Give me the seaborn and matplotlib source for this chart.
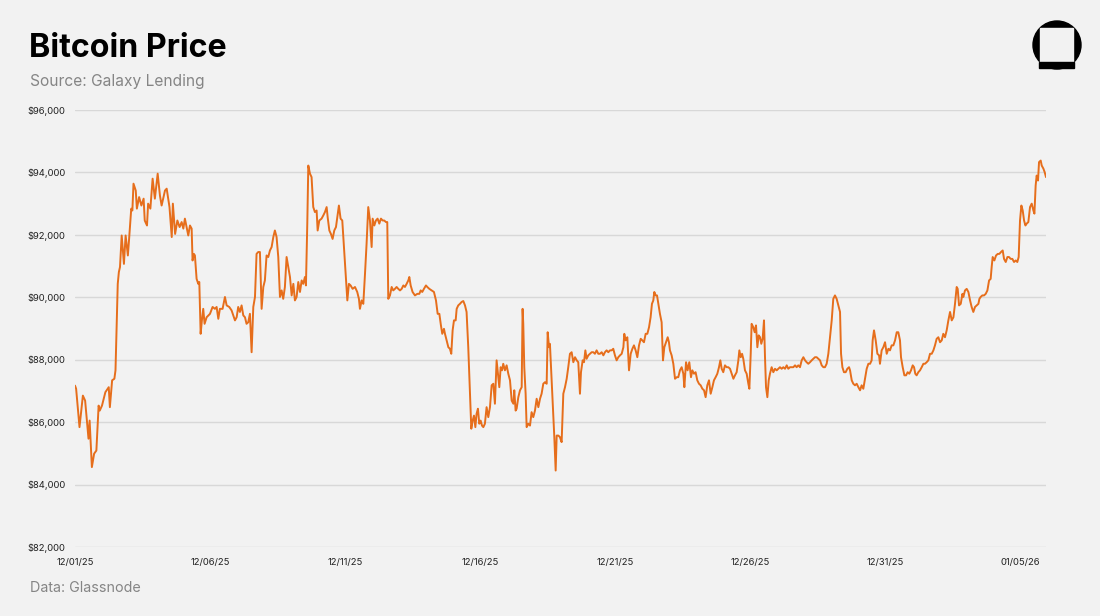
import pandas as pd
import seaborn as sns
import matplotlib
matplotlib.use("Agg")
import matplotlib.pyplot as plt
from matplotlib.ticker import FuncFormatter
from matplotlib.patches import Circle, Rectangle

# hours since 2025-12-01 00:00 and BTC price
hours = [
    0, 1, 4, 7, 9, 12, 13, 15, 17, 19, 21, 22, 24, 27, 30, 31, 33, 35, 36, 38,
    39, 40, 41.5, 43.5, 45, 47, 48, 50, 51, 52, 54, 55, 57, 59, 61, 62, 64, 65, 67, 69,
    71, 73.5, 75.5, 77, 80, 81.5, 84, 86, 87, 89, 91, 93,
    94.8, 96.3, 97.7, 99.2, 100.7, 102.2, 103.7, 104.5, 105.7, 106.6, 108.1, 109.6, 110.5, 111.7,
    112.8, 114.0, 115.2, 117.0, 120.0, 122.3, 124.4, 125.9, 127.4, 128.8, 131.2, 133.3, 134.8,
    137.1, 139.2, 140.7, 142.2, 143.7, 145.1, 146.6, 148.1, 149.6, 151.1, 152.5, 154.0, 155.5,
    157.0, 158.5, 160.0, 161.4, 162.9, 164.4, 165.9, 167.4, 168.8, 170.3, 171.8, 173.3, 174.8,
    176.3, 177.7, 179.2, 180.7, 182.2, 183.7, 185.1, 186.6, 188.1, 189.6, 191.1,
    192.6, 194.1, 195.5, 197.0, 198.5, 200.0, 201.5, 202.9, 204.4, 205.3, 206.5, 207.4, 208.9,
    210.3, 211.8, 213.3, 214.8, 215.7, 217.2, 219.2, 220.7, 222.2, 223.7, 224.6, 226.1, 227.5,
    229.0, 230.5, 232.0, 233.2, 234.6, 236.1, 237.6, 239.1, 240.6, 242.1, 243.5, 245.0, 246.8,
    248.9, 250.9, 252.4, 253.3, 254.8, 256.3, 257.8, 259.2, 260.7, 262.2, 263.7, 264.6, 266.1,
    267.5, 269.0, 270.5, 272.0, 273.5, 274.9, 276.4, 277.6, 278.5, 280.0, 281.5, 282.9, 284.4,
    285.9, 287.4, 288.9,
    290.4, 291.9, 293.3, 294.8, 296.3, 297.2, 298.4, 300.1, 302.2, 304.3, 306.1, 307.3, 308.7,
    310.2, 312.0, 313.2, 315.0, 317.0, 319.1, 320.9, 322.4, 323.9, 325.3, 326.5, 328.0, 328.9,
    330.4, 331.9, 333.3, 334.5, 335.7, 336.9, 338.4, 339.3, 340.7, 342.2, 343.7, 345.2, 346.7,
    348.1, 349.6, 351.1, 352.3, 353.5, 354.7, 355.9, 357.0, 358.2, 359.4, 360.6, 361.8, 363.0,
    364.4, 365.9, 367.4, 368.9, 370.4, 371.9, 373.3, 374.8, 376.0, 377.2, 378.4, 379.6, 380.7,
    382.2, 383.7, 385.2, 386.7,
    388.2, 389.7, 390.5, 391.7, 392.6, 394.1, 395.6, 397.1, 397.9, 398.5, 399.4, 400.6, 401.5,
    403.0, 404.5, 405.9, 407.4, 408.9, 410.4, 411.9, 413.4, 414.8, 416.3, 417.8, 419.3, 420.2,
    421.4, 422.2, 423.7, 425.2, 426.1, 427.3, 428.2, 429.7, 431.1, 432.6, 434.1, 435.6, 437.1,
    438.5, 440.0, 441.5, 443.0, 444.5, 446.0, 447.4, 448.9, 449.8, 451.3, 452.5, 453.7, 454.8,
    456.3, 457.8, 459.3, 460.8, 462.2, 463.7, 465.2, 466.7, 468.2, 469.7, 471.1, 472.6, 474.1,
    475.6, 477.1, 478.5, 480.0, 481.5, 483.0, 484.5,
    486.0, 487.5, 488.3, 489.5, 491.0, 492.5, 494.0, 495.5, 496.9, 498.4, 499.9, 501.4, 502.9,
    504.3, 505.8, 507.3, 508.8, 510.3, 511.7, 512.9, 514.1, 515.0, 516.2, 517.4, 518.6, 520.0,
    521.5, 522.7, 523.9, 525.4, 526.9, 528.0, 528.9, 530.4, 531.9, 533.4, 534.9, 536.3, 537.8,
    539.3, 540.8, 541.7, 543.2, 544.6, 546.1, 547.6, 548.8, 550.3, 551.7, 553.2, 554.7, 556.2,
    557.7, 559.2, 560.6, 562.1, 563.6, 565.1, 566.6, 568.0, 569.5, 571.0, 572.5, 573.7, 574.9,
    576.3, 577.8, 579.3, 580.8, 582.3,
    583.8, 585.3, 586.7, 588.2, 589.7, 590.6, 591.8, 593.0, 594.1, 595.6, 597.1, 598.6, 599.5,
    600.7, 601.5, 603.0, 604.2, 605.4, 606.6, 607.8, 609.0, 610.1, 611.3, 612.5, 613.4, 614.3,
    615.5, 616.7, 617.8, 619.3, 620.8, 622.3, 623.8, 625.3, 626.7, 628.2, 629.7, 631.2, 632.7,
    634.1, 635.6, 637.1, 638.6, 640.1, 641.5, 643.0, 644.5, 646.0, 647.5, 649.0, 650.4, 651.9,
    653.4, 654.9, 656.4, 657.8, 659.3, 660.8, 662.3, 663.8, 665.3, 666.7, 668.2, 669.7, 671.2,
    672.7, 674.1, 675.6, 677.1, 678.6, 680.1,
    681.0, 682.2, 683.6, 685.1, 686.6, 688.1, 689.0, 690.5, 691.9, 693.4, 694.9, 696.4, 697.9,
    699.3, 700.8, 702.3, 703.8, 705.3, 706.8, 708.2, 709.1, 710.3, 711.8, 713.3, 714.8, 715.6,
    717.1, 718.6, 720.1, 721.6, 723.1, 724.5, 726.0, 727.5, 729.0, 730.5, 731.9, 733.4, 734.3,
    735.8, 737.3, 738.8, 740.2, 741.7, 743.2, 744.7, 745.9, 747.0, 748.2, 749.7, 751.2, 752.7,
    754.2, 755.6, 757.1, 758.6, 760.1, 761.6, 763.1, 764.5, 766.0, 767.5, 769.0, 770.5, 771.9,
    773.4, 774.9, 776.4, 777.9,
    779.4, 780.9, 782.3, 783.8, 784.7, 785.9, 787.4, 788.9, 789.7, 791.2, 792.7, 794.2, 795.7,
    797.1, 798.6, 800.1, 801.6, 803.1, 804.0, 805.1, 806.6, 808.1, 809.6, 811.1, 812.6, 814.0,
    814.9, 815.8, 817.3, 818.8, 820.3, 821.7, 823.2, 824.7, 825.9, 827.4, 828.9, 830.3, 831.8,
    833.3, 834.8, 836.3, 837.7, 838.9, 840.1, 841.3, 842.5, 843.7, 844.9, 846.0, 847.5, 849.0,
    850.5, 852.0, 852.9, 854.0, 854.9, 856.1, 857.0, 858.5, 859.4, 860.9, 862.0, 863.2,
]

prices = [
    87170, 87070, 85840, 86850, 86690, 85470, 86050, 84560, 84990, 85090, 86530, 86370, 86530,
    86960, 87120, 86480, 87340, 87390, 87660, 90430,
    90810, 90970, 91980, 91070, 91980, 91340, 91820, 92840, 92780, 93640, 93420, 92840, 93210,
    92940, 93160, 92460, 92300, 93000, 92840, 93800,
    93160, 93960, 93260, 92940, 93420, 93480, 92890, 91930, 93000, 92030, 92460, 92250,
    92410, 92200, 92520, 92250, 91980, 92300, 92200, 91180, 91390, 91340, 90590, 90430, 90490, 88830,
    89260, 89630, 89150, 89360, 89470, 89690, 89630, 89690, 89310, 89630, 89630, 90010, 89740,
    89690, 89580, 89420, 89260, 89360, 89690, 89530, 89740, 89420, 89360, 89150, 89200, 89470,
    88240, 89690, 90010, 91390, 91450, 91450, 89630, 90330, 90540, 91340, 91290, 91500, 91610,
    91930, 92140, 91930, 91290, 90010, 90220, 89950, 90330, 91290, 90970, 90650,
    90060, 90430, 89900, 90010, 90490, 90170, 90540, 90430, 90650, 90380, 92360, 94220, 93960,
    93850, 92890, 92730, 92780, 92140, 92460, 92520, 92620, 92730, 92890, 92570, 92140, 92030,
    91870, 92140, 92250, 92570, 92940, 92520, 92460, 91610, 90750, 89900, 90430, 90380, 90270,
    90330, 90170, 89950, 89630, 89900, 89790, 90750, 91710, 92890, 92460, 91610, 92520, 92300,
    92460, 92520, 92360, 92520, 92460, 92460, 92410, 92410, 89950, 90060, 90330, 90220, 90270,
    90330, 90270, 90220,
    90270, 90380, 90330, 90430, 90540, 90650, 90380, 90170, 90060, 90110, 90110, 90220, 90170,
    90270, 90380, 90330, 90270, 90220, 90170, 89900, 89470, 89470, 89100, 88830, 88990, 88830,
    88620, 88400, 88350, 88190, 88940, 89260, 89260, 89630, 89740, 89790, 89850, 89880, 89740,
    89530, 88400, 86910, 85790, 86050, 86210, 85840, 86270, 86430, 85950, 86050, 85890, 85840,
    85950, 86480, 86160, 86480, 87180, 87230, 86590, 87980, 87550, 87120, 87760, 87660, 87870,
    87660, 87820, 87550, 87340,
    86690, 86590, 87020, 86370, 86430, 86800, 87020, 87120, 89630, 89150, 87760, 86910, 85840,
    85950, 85890, 86320, 86160, 86370, 86750, 86480, 86750, 86910, 87230, 87280, 87230, 88880,
    88400, 88510, 87340, 86160, 85520, 84450, 85570, 85570, 85520, 85360, 86910, 87120, 87390,
    87760, 88190, 88240, 87920, 88080, 87980, 87920, 86910, 87600, 87980, 87920, 88300, 88030,
    88140, 88190, 88240, 88240, 88190, 88300, 88190, 88190, 88240, 88140, 88240, 88300, 88240,
    88300, 88300, 88350, 88140, 87980, 88080, 88140,
    88190, 88400, 88830, 88620, 88720, 87660, 88190, 88350, 88460, 88300, 88080, 88460, 88670,
    88620, 88560, 88830, 88830, 89040, 89360, 89790, 89900, 90170, 90060, 90060, 89790, 89470,
    89200, 87980, 88400, 88560, 88720, 88560, 88300, 88140, 87870, 87390, 87440, 87440, 87660,
    87760, 87550, 87120, 87920, 87660, 87920, 87440, 87660, 87550, 87600, 87340, 87230, 87180,
    87070, 87020, 86800, 87180, 87340, 86910, 87120, 87340, 87440, 87550, 87760, 87980, 87710,
    87600, 87820, 87760, 87760, 87710,
    87550, 87390, 87500, 87600, 87980, 88300, 88080, 88190, 88030, 87660, 87550, 87230, 87070,
    88190, 89150, 89040, 88880, 89100, 88400, 88780, 88720, 88510, 88670, 89260, 88080, 87120,
    86800, 87340, 87550, 87760, 87600, 87710, 87660, 87710, 87760, 87710, 87760, 87710, 87820,
    87710, 87760, 87760, 87760, 87820, 87760, 87820, 87760, 87980, 88080, 87980, 87920, 87870,
    87920, 87980, 88030, 88080, 88080, 88030, 87980, 87820, 87760, 87760, 87870, 88190, 88720,
    89260, 89950, 90060, 89950, 89740, 89530,
    88190, 87760, 87600, 87600, 87710, 87760, 87660, 87340, 87230, 87180, 87230, 87120, 87020,
    87180, 87070, 87390, 87710, 87870, 87870, 87980, 88620, 88940, 88620, 88190, 88140, 87870,
    88300, 88400, 88560, 88190, 88350, 88300, 88460, 88460, 88620, 88880, 88880, 88620, 88080,
    87760, 87500, 87500, 87600, 87550, 87660, 87820, 87760, 87550, 87500, 87600, 87660, 87760,
    87870, 87870, 87920, 87980, 88190, 88190, 88300, 88460, 88670, 88720, 88560, 88620, 88830,
    88720, 88940, 89260, 89530,
    89260, 89360, 89790, 90330, 90270, 89740, 89790, 90110, 90010, 90220, 90270, 90170, 89900,
    89690, 89530, 89690, 89740, 89790, 89950, 90010, 90060, 90060, 90110, 90220, 90540, 90590,
    90970, 91290, 91180, 91340, 91390, 91390, 91450, 91500, 91230, 91130, 91290, 91290, 91230,
    91230, 91130, 91180, 91130, 91290, 92460, 92940, 92780, 92460, 92300, 92360, 92410, 92890,
    93000, 92780, 92680, 93580, 93900, 93740, 94330, 94380, 94220, 94120, 94010, 93850,
]

y_ticks = [82000, 84000, 86000, 88000, 90000, 92000, 94000, 96000]
x_ticks = ["2025-12-01", "2025-12-06", "2025-12-11", "2025-12-16",
           "2025-12-21", "2025-12-26", "2025-12-31", "2026-01-05"]
x_labels = ["12/01/25", "12/06/25", "12/11/25", "12/16/25",
            "12/21/25", "12/26/25", "12/31/25", "01/05/26"]

df = pd.DataFrame({
    "time": pd.Timestamp("2025-12-01") + pd.to_timedelta(hours, unit="h"),
    "price": prices,
})

BG = "#f2f2f2"
ORANGE = "#e66e1c"

sns.set_style("white")
plt.rcParams["font.family"] = ["Inter", "DejaVu Sans"]

fig = plt.figure(figsize=(11, 6.16), dpi=100, facecolor=BG)
ax = fig.add_axes([75 / 1100, 1 - 547 / 616, (1046 - 75) / 1100, (547 - 110) / 616])
ax.set_facecolor(BG)

sns.lineplot(data=df, x="time", y="price", color=ORANGE, linewidth=1.4, ax=ax)

ax.set_xlim(df["time"].min(), df["time"].max())
ax.set_ylim(y_ticks[0], y_ticks[-1])
ax.set_yticks(y_ticks)
ax.yaxis.set_major_formatter(FuncFormatter(lambda v, _: f"${v:,.0f}"))
ax.set_xticks(pd.to_datetime(x_ticks))
ax.set_xticklabels(x_labels)
ax.tick_params(axis="both", length=0, labelsize=6.8, colors="#222222")
ax.tick_params(axis="y", pad=7)
ax.tick_params(axis="x", pad=8)
ax.grid(axis="y", color="#d8d8d8", linewidth=1)
ax.grid(axis="x", visible=False)
for s in ax.spines.values():
    s.set_visible(False)
ax.set_xlabel("")
ax.set_ylabel("")

# titles
fig.text(29 / 1100, 1 - 57 / 616, "Bitcoin Price", fontsize=23.2, fontweight="bold",
         color="#000000", va="baseline")
fig.text(30 / 1100, 1 - 86 / 616, "Source: Galaxy Lending", fontsize=11.2,
         color="#858585", va="baseline")
fig.text(30 / 1100, 1 - 592 / 616, "Data: Glassnode", fontsize=10.3,
         color="#858585", va="baseline")

# logo
lg = fig.add_axes([0, 0, 1, 1], facecolor="none")
lg.set_xlim(0, 1100)
lg.set_ylim(616, 0)
lg.axis("off")
lg.add_patch(Circle((1057, 45), 24, color="black"))
lg.add_patch(Rectangle((1040, 28), 33, 34, color=BG))
lg.add_patch(Rectangle((1039, 62), 35, 6, color="black"))

fig.savefig("out.png", dpi=100, facecolor=BG)
